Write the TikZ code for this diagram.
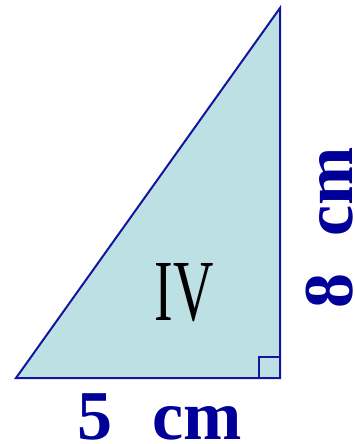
\documentclass[tikz,border=0pt]{standalone}
\usepackage{fontspec}
\setmainfont{Liberation Serif}
\definecolor{trifill}{HTML}{BCE0E4}
\definecolor{tristroke}{HTML}{1414A0}
\definecolor{labelblue}{HTML}{000099}
\tikzset{
  lbl/.style={text=labelblue, font=\fontsize{70}{70}\selectfont\bfseries, inner sep=0pt, anchor=base},
}
\begin{document}
\begin{tikzpicture}[x=1pt,y=-1pt]
\useasboundingbox (0,0) rectangle (355,444);
\coordinate (A) at (16,378);
\coordinate (B) at (280,378);
\coordinate (C) at (280,8);
\filldraw[fill=trifill, draw=tristroke, line width=2pt, line join=miter] (A) -- (B) -- (C) -- cycle;
\draw[tristroke, line width=2pt] (259,378) -- (259,357) -- (280,357);
\node[inner sep=0pt, anchor=south] (iv) at (184,322) {\resizebox{59pt}{57pt}{IV}};
\node[lbl] (five) at (160,439) {5\hspace{40pt}cm};
\node[lbl, rotate=90] (eight) at (352,228) {8\hspace{37pt}cm};
\end{tikzpicture}
\end{document}
